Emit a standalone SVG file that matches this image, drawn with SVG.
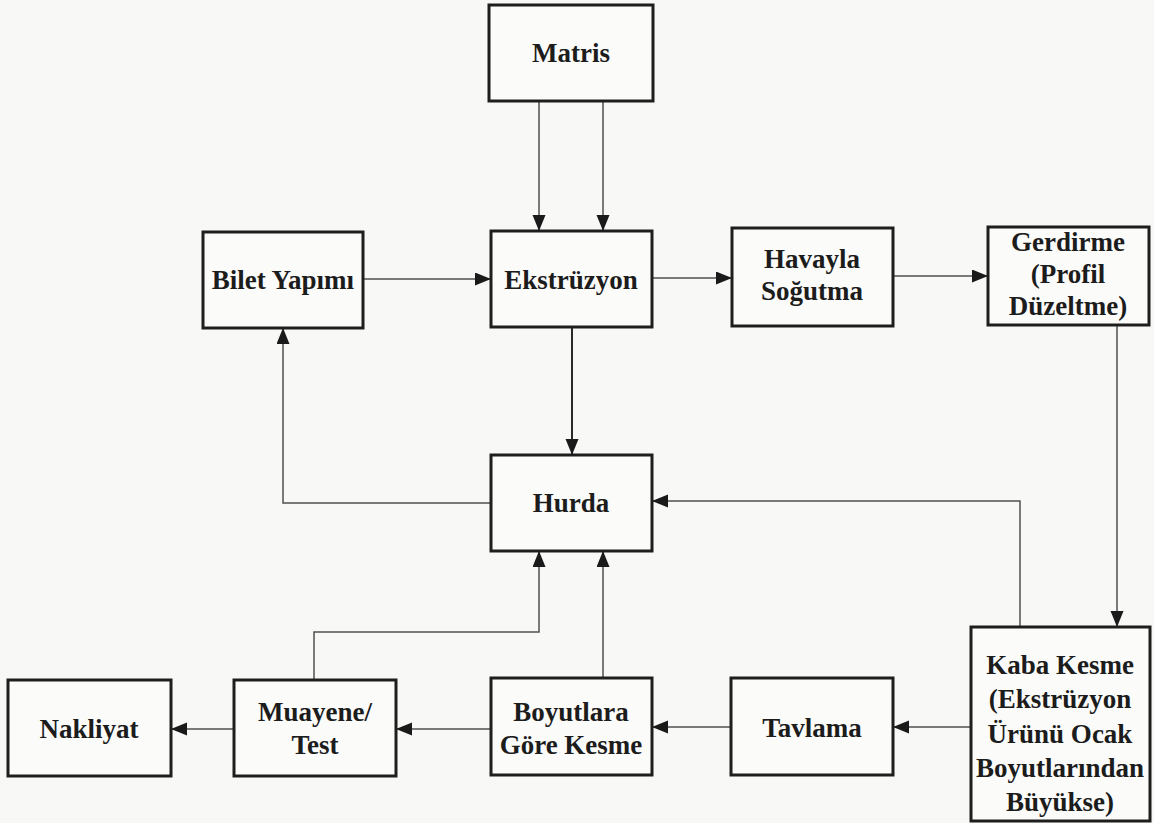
<svg xmlns="http://www.w3.org/2000/svg" width="1154" height="823" viewBox="0 0 1154 823">
  <style>
    .box { fill: #fbfbf9; stroke: #1e1e1e; stroke-width: 3; }
    .lbl { font-family: "Liberation Serif", "Times New Roman", serif; font-weight: bold; font-size: 27px; fill: #1c1c1c; text-anchor: middle; }
    .wire { fill: none; stroke: #505050; stroke-width: 1.5; marker-end: url(#head); }
    .wire.heavy { stroke: #2a2a2a; stroke-width: 2; }
  </style>
  <defs>
    <marker id="head" markerUnits="userSpaceOnUse" markerWidth="18" markerHeight="14" refX="16" refY="6.5" orient="auto">
      <path d="M0,0 L16,6.5 L0,13 Z" fill="#1a1a1a"/>
    </marker>
  </defs>

  <rect width="1154" height="823" fill="#f8f8f6"/>

  <g id="connectors">
    <path class="wire" d="M539,101 V231"/>
    <path class="wire" d="M603,101 V231"/>
    <path class="wire" d="M363,279 H491"/>
    <path class="wire" d="M652,278 H732"/>
    <path class="wire" d="M893,276 H988"/>
    <path class="wire" d="M1117,325 V627"/>
    <path class="wire heavy" d="M572,327 V455"/>
    <path class="wire" d="M491,503 H283 V328"/>
    <path class="wire" d="M1020,627 V501 H652"/>
    <path class="wire" d="M971,727 H893"/>
    <path class="wire" d="M731,727 H652"/>
    <path class="wire" d="M491,729 H396"/>
    <path class="wire" d="M234,729 H171"/>
    <path class="wire" d="M603,678 V551"/>
    <path class="wire" d="M314,680 V632 H539 V551"/>
  </g>

  <g id="matris">
    <rect class="box" x="489" y="5" width="164" height="96"/>
    <text class="lbl" x="571" y="62">Matris</text>
  </g>
  <g id="bilet-yapimi">
    <rect class="box" x="203" y="232" width="160" height="96"/>
    <text class="lbl" x="283" y="289">Bilet Yapımı</text>
  </g>
  <g id="ekstruzyon">
    <rect class="box" x="491" y="231" width="161" height="96"/>
    <text class="lbl" x="571" y="289">Ekstrüzyon</text>
  </g>
  <g id="havayla-sogutma">
    <rect class="box" x="732" y="228" width="161" height="98"/>
    <text class="lbl" x="812" y="268">Havayla</text>
    <text class="lbl" x="812" y="300">Soğutma</text>
  </g>
  <g id="gerdirme">
    <rect class="box" x="988" y="227" width="161" height="98"/>
    <text class="lbl" x="1068" y="251">Gerdirme</text>
    <text class="lbl" x="1068" y="283">(Profil</text>
    <text class="lbl" x="1068" y="315">Düzeltme)</text>
  </g>
  <g id="hurda">
    <rect class="box" x="491" y="455" width="161" height="96"/>
    <text class="lbl" x="571" y="512">Hurda</text>
  </g>
  <g id="kaba-kesme">
    <rect class="box" x="971" y="627" width="179" height="194"/>
    <text class="lbl" x="1060" y="674">Kaba Kesme</text>
    <text class="lbl" x="1060" y="708">(Ekstrüzyon</text>
    <text class="lbl" x="1060" y="743">Ürünü Ocak</text>
    <text class="lbl" x="1060" y="777">Boyutlarından</text>
    <text class="lbl" x="1060" y="811">Büyükse)</text>
  </g>
  <g id="tavlama">
    <rect class="box" x="731" y="678" width="162" height="97"/>
    <text class="lbl" x="812" y="737">Tavlama</text>
  </g>
  <g id="boyutlara-gore-kesme">
    <rect class="box" x="491" y="678" width="161" height="97"/>
    <text class="lbl" x="571" y="721">Boyutlara</text>
    <text class="lbl" x="571" y="754">Göre Kesme</text>
  </g>
  <g id="muayene-test">
    <rect class="box" x="234" y="680" width="162" height="96"/>
    <text class="lbl" x="315" y="721">Muayene/</text>
    <text class="lbl" x="315" y="754">Test</text>
  </g>
  <g id="nakliyat">
    <rect class="box" x="8" y="680" width="163" height="96"/>
    <text class="lbl" x="89" y="738">Nakliyat</text>
  </g>
</svg>
